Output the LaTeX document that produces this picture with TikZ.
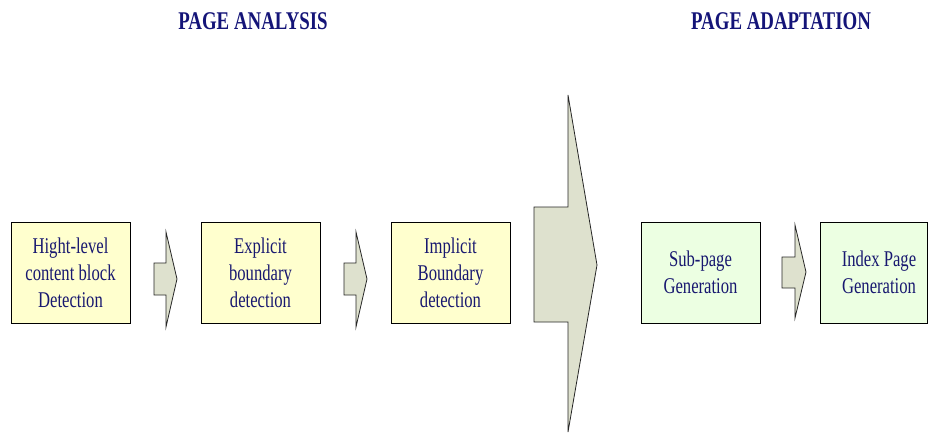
\documentclass[tikz,border=0pt]{standalone}
\usepackage{fontspec}
\setmainfont{Liberation Serif}[FakeStretch=0.74]
\begin{document}
\definecolor{inkblue}{RGB}{24,24,112}
\definecolor{titleblue}{RGB}{20,20,120}
\definecolor{paleyellow}{RGB}{255,255,206}
\definecolor{palegreen}{RGB}{236,255,226}
\definecolor{arrowfill}{RGB}{222,225,206}
\begin{tikzpicture}[x=1pt,y=-1pt,
  stage/.style={draw=black,line width=0.9pt,minimum width=119pt,minimum height=101pt,
    inner sep=0pt,align=center,text=inkblue,
    font=\fontsize{22.5}{27}\selectfont},
  analysis/.style={stage,fill=paleyellow},
  adaptation/.style={stage,fill=palegreen},
  label/.style={align=center,text=inkblue,inner sep=0pt,font=\fontsize{22.5}{27}\selectfont},
  flow/.style={draw=black!85,line width=0.8pt,fill=arrowfill,line join=miter},
  heading/.style={text=titleblue,font=\fontsize{25.5}{28}\selectfont\bfseries}]
\useasboundingbox (0,0) rectangle (929,434);

% section headings
\node[heading] (hA) at (253,21) {PAGE ANALYSIS};
\node[heading] (hB) at (781,21) {PAGE ADAPTATION};

% processing stages
\node[analysis] (s1) at (70.5,272.5) {Hight-level\\content block\\Detection};
\node[analysis] (s2) at (260.5,272.5) {Explicit\\boundary\\detection};
\node[analysis] (s3) at (450.5,272.5) {Implicit\\Boundary\\detection};
\node[adaptation] (s4) at (700.5,272.5) {Sub-page\\Generation};
\node[adaptation,minimum width=107pt] (s5) at (873.5,272.5) {};
\node[label] (s5text) at (879,272.5) {Index Page\\Generation};

% block arrows between stages
\draw[flow] (154,263) -- (166,263) -- (166,232) -- (177,279) -- (166,327) -- (166,295) -- (154,295) -- cycle;
\draw[flow] (344,263) -- (356,263) -- (356,232) -- (367,279) -- (356,327) -- (356,295) -- (344,295) -- cycle;
\draw[flow] (782,257) -- (795,257) -- (795,225) -- (806,272) -- (795,318) -- (795,288) -- (782,288) -- cycle;

% large arrow from analysis to adaptation
\draw[flow] (534,207) -- (568,207) -- (568,95) -- (597,265) -- (568,432) -- (568,322) -- (534,322) -- cycle;
\end{tikzpicture}
\end{document}
